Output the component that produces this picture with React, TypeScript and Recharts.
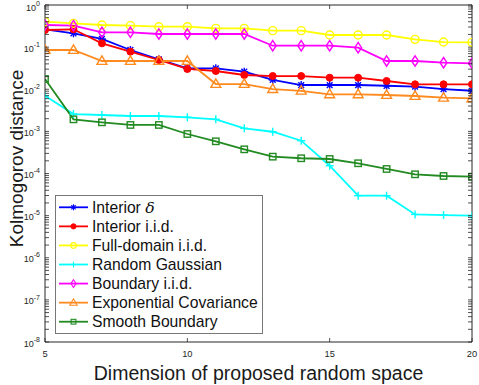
import React from 'react';
import { LineChart, Line, XAxis, YAxis, Legend } from 'recharts';

const dims = [5, 6, 7, 8, 9, 10, 11, 12, 13, 14, 15, 16, 17, 18, 19, 20];
const interiorDelta = [0.265, 0.213, 0.156, 0.0855, 0.0514, 0.0314, 0.0314, 0.0261, 0.0166, 0.0126, 0.0126, 0.0126, 0.0121, 0.0115, 0.0101, 0.0092];
const interiorIid = [0.255, 0.265, 0.123, 0.078, 0.0495, 0.0303, 0.0271, 0.0218, 0.0206, 0.0206, 0.0188, 0.0188, 0.0157, 0.0131, 0.0131, 0.0131];
const fullDomainIid = [0.402, 0.367, 0.335, 0.323, 0.305, 0.305, 0.279, 0.279, 0.246, 0.246, 0.194, 0.194, 0.194, 0.153, 0.132, 0.13];
const randomGaussian = [0.00703, 0.00258, 0.00245, 0.00232, 0.00232, 0.00216, 0.00193, 0.00118, 0.00098, 0.000601, 0.000153, 0.0000297, 0.0000297, 0.0000107, 0.0000103, 0.00000995];
const boundaryIid = [0.335, 0.323, 0.225, 0.225, 0.205, 0.205, 0.205, 0.205, 0.108, 0.108, 0.108, 0.097, 0.0469, 0.0469, 0.0427, 0.0412];
const expCovariance = [0.0855, 0.0855, 0.0469, 0.0469, 0.0469, 0.0469, 0.0133, 0.0133, 0.0101, 0.0092, 0.00757, 0.00757, 0.00731, 0.00692, 0.0063, 0.00609];
const smoothBoundary = [0.0175, 0.00193, 0.00164, 0.00142, 0.00142, 0.000866, 0.000581, 0.000375, 0.000251, 0.00023, 0.000221, 0.000175, 0.000128, 0.0000957, 0.0000873, 0.000084];

const seriesNames = ['Interior δ', 'Interior i.i.d.', 'Full-domain i.i.d.', 'Random Gaussian', 'Boundary i.i.d.', 'Exponential Covariance', 'Smooth Boundary'];
const seriesKeys = ['interiorDelta', 'interiorIid', 'fullDomainIid', 'randomGaussian', 'boundaryIid', 'expCovariance', 'smoothBoundary'];
const seriesColors = ['#0000FF', '#FF0000', '#FFFF00', '#00FFFF', '#FF00FF', '#FF8A1F', '#218A21'];
const seriesShapes = ['asterisk', 'dot', 'circle', 'plus', 'diamond', 'triangle', 'square'];
const seriesValues = [interiorDelta, interiorIid, fullDomainIid, randomGaussian, boundaryIid, expCovariance, smoothBoundary];

const xTicks = [5, 10, 15, 20];
const yExponents = [-8, -7, -6, -5, -4, -3, -2, -1, 0];

const data = dims.map((d, i) => {
  const row: Record<string, number> = { dim: d };
  seriesKeys.forEach((k, j) => {
    row[k] = seriesValues[j][i];
  });
  return row;
});

const yTicks: number[] = [];
yExponents.forEach((e) => {
  yTicks.push(Math.pow(10, e));
  if (e < 0) {
    for (let m = 2; m <= 9; m++) yTicks.push(m * Math.pow(10, e));
  }
});

const FONT = '"Liberation Sans", Arial, Helvetica, sans-serif';
const AXIS = '#262626';

function Marker({ shape, cx, cy, color, s, sw = 1.4 }: { shape: string; cx: number; cy: number; color: string; s: number; sw?: number }) {
  switch (shape) {
    case 'asterisk': {
      const d = s * 0.72;
      return (
        <g stroke={color} strokeWidth={sw}>
          <line x1={cx - s} y1={cy} x2={cx + s} y2={cy} />
          <line x1={cx} y1={cy - s} x2={cx} y2={cy + s} />
          <line x1={cx - d} y1={cy - d} x2={cx + d} y2={cy + d} />
          <line x1={cx - d} y1={cy + d} x2={cx + d} y2={cy - d} />
        </g>
      );
    }
    case 'dot':
      return <circle cx={cx} cy={cy} r={s} fill={color} stroke={color} strokeWidth={1} />;
    case 'circle':
      return <circle cx={cx} cy={cy} r={s} fill="none" stroke={color} strokeWidth={sw} />;
    case 'plus':
      return (
        <g stroke={color} strokeWidth={sw}>
          <line x1={cx - s} y1={cy} x2={cx + s} y2={cy} />
          <line x1={cx} y1={cy - s} x2={cx} y2={cy + s} />
        </g>
      );
    case 'diamond':
      return (
        <polygon
          points={`${cx},${cy - s * 1.3} ${cx + s * 0.85},${cy} ${cx},${cy + s * 1.3} ${cx - s * 0.85},${cy}`}
          fill="none"
          stroke={color}
          strokeWidth={sw}
        />
      );
    case 'triangle':
      return (
        <polygon
          points={`${cx},${cy - s * 1.15} ${cx + s * 1.1},${cy + s * 0.75} ${cx - s * 1.1},${cy + s * 0.75}`}
          fill="none"
          stroke={color}
          strokeWidth={sw}
        />
      );
    case 'square':
      return <rect x={cx - s * 0.8} y={cy - s * 0.8} width={s * 1.6} height={s * 1.6} fill="none" stroke={color} strokeWidth={sw} />;
    default:
      return null;
  }
}

const markerSizes = [4, 3.5, 4, 4, 4, 4.5, 4];
const legendMarkerSizes = [3, 2.6, 2.8, 3, 3, 3.4, 3];

function makeDot(idx: number) {
  return (props: any) => {
    const { cx, cy, index } = props;
    if (cx == null || cy == null) return <g key={`d-${idx}-${index}`} />;
    return (
      <g key={`d-${idx}-${index}`}>
        <Marker shape={seriesShapes[idx]} cx={cx} cy={cy} color={seriesColors[idx]} s={markerSizes[idx]} />
      </g>
    );
  };
}

function isMajor(v: number) {
  const lg = Math.log10(v);
  return Math.abs(lg - Math.round(lg)) < 1e-6;
}

const LeftTick = (props: any) => {
  const { x, y, payload } = props;
  const v = payload.value;
  const major = isMajor(v);
  const ax = x + 4;
  const exp = Math.round(Math.log10(v));
  const shift = exp === 0 ? 1.5 : 0;
  return (
    <g>
      <line x1={ax} x2={ax + 4} y1={y} y2={y} stroke={AXIS} strokeWidth={0.8} />
      {major && (
        <text x={x - 1} y={y + 4.5 + shift} textAnchor="end" fill={AXIS} fontFamily={FONT}>
          <tspan fontSize={9}>10</tspan>
          <tspan fontSize={7} dy={-4.8}>{String(exp)}</tspan>
        </text>
      )}
    </g>
  );
};

const RightTick = (props: any) => {
  const { x, y } = props;
  return <line x1={x - 4} x2={x} y1={y} y2={y} stroke={AXIS} strokeWidth={0.8} />;
};

const BottomTick = (props: any) => {
  const { x, y, payload } = props;
  return (
    <g>
      <line x1={x} x2={x} y1={y} y2={y - 4} stroke={AXIS} strokeWidth={0.8} />
      <text x={x} y={y + 14.5} textAnchor="middle" fontSize={9.3} fill={AXIS} fontFamily={FONT}>
        {String(payload.value)}
      </text>
    </g>
  );
};

const TopTick = (props: any) => {
  const { x, y } = props;
  return <line x1={x} x2={x} y1={y} y2={y + 4} stroke={AXIS} strokeWidth={0.8} />;
};

const YTitle = (props: any) => {
  const vb = props.viewBox || {};
  const cy = (vb.y ?? 0) + (vb.height ?? 0) / 2 - 15;
  return (
    <text
      x={23}
      y={cy}
      transform={`rotate(-90, 23, ${cy})`}
      textAnchor="middle"
      fontSize={19}
      fill="#1a1a1a"
      fontFamily={FONT}
    >
      Kolmogorov distance
    </text>
  );
};

const LegendBox = () => (
  <svg width={208} height={139} style={{ display: 'block' }}>
    <rect x={0.5} y={0.5} width={207} height={138} fill="#fff" stroke="#777" strokeWidth={1} />
    {seriesNames.map((name, i) => {
      const cy = 12.3 + i * 19.07;
      const isDelta = i === 0;
      return (
        <g key={name}>
          <line x1={4} x2={33} y1={cy} y2={cy} stroke={seriesColors[i]} strokeWidth={1.8} />
          <Marker shape={seriesShapes[i]} cx={18.5} cy={cy} color={seriesColors[i]} s={legendMarkerSizes[i]} sw={1.1} />
          <text x={37} y={cy + 5.6} fontSize={15.7} fill="#111" fontFamily={FONT}>
            {isDelta ? (
              <>
                <tspan>Interior </tspan>
                <tspan fontStyle="italic" fontFamily='"DejaVu Serif", "Liberation Serif", serif'>δ</tspan>
              </>
            ) : (
              name
            )}
          </text>
        </g>
      );
    })}
  </svg>
);

export default function App() {
  return (
    <div style={{ position: 'absolute', left: 0, top: 0, width: 479, height: 385, background: '#fff' }}>
      <LineChart width={479} height={385} data={data} margin={{ top: 0, right: 0, bottom: 0, left: 0 }}>
        <XAxis
          dataKey="dim"
          type="number"
          domain={[5, 20]}
          ticks={xTicks}
          interval={0}
          height={43}
          tickSize={0}
          tickMargin={0}
          tick={<BottomTick />}
          axisLine={{ stroke: AXIS, strokeWidth: 1 }}
          tickLine={false}
          allowDataOverflow
          label={{
            value: 'Dimension of proposed random space',
            position: 'insideBottom',
            offset: 5,
            fontSize: 19.5,
            fill: '#1a1a1a',
            fontFamily: FONT,
          }}
        />
        <XAxis
          xAxisId="top"
          orientation="top"
          dataKey="dim"
          type="number"
          domain={[5, 20]}
          ticks={xTicks}
          interval={0}
          height={5}
          tickSize={0}
          tickMargin={0}
          tick={<TopTick />}
          axisLine={{ stroke: AXIS, strokeWidth: 1 }}
          tickLine={false}
          allowDataOverflow
        />
        <YAxis
          type="number"
          scale="log"
          domain={[1e-8, 1]}
          ticks={yTicks}
          interval={0}
          width={45}
          tickSize={0}
          tickMargin={4}
          tick={<LeftTick />}
          axisLine={{ stroke: AXIS, strokeWidth: 1 }}
          tickLine={false}
          allowDataOverflow
          label={<YTitle />}
        />
        <YAxis
          yAxisId="right"
          orientation="right"
          type="number"
          scale="log"
          domain={[1e-8, 1]}
          ticks={yTicks}
          interval={0}
          width={7}
          tickSize={0}
          tickMargin={0}
          tick={<RightTick />}
          axisLine={{ stroke: AXIS, strokeWidth: 1 }}
          tickLine={false}
          allowDataOverflow
        />
        <Legend
          layout="horizontal"
          verticalAlign="middle"
          align="center"
          content={() => <LegendBox />}
          wrapperStyle={{ position: 'absolute', left: 55, top: 195, width: 208, height: 139, margin: 0, padding: 0 }}
        />
        {seriesKeys.map((k, i) => (
          <Line
            key={k}
            dataKey={k}
            name={seriesNames[i]}
            type="linear"
            stroke={seriesColors[i]}
            strokeWidth={1.8}
            dot={makeDot(i)}
            activeDot={false}
            isAnimationActive={false}
          />
        ))}
      </LineChart>
    </div>
  );
}
